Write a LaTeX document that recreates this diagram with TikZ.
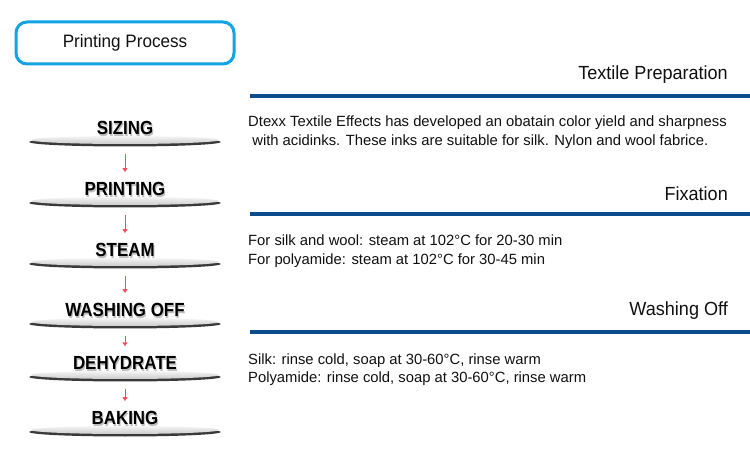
\documentclass[tikz,border=0pt]{standalone}
\usepackage{fontspec}
\setmainfont{Liberation Sans}
\usepackage{xcolor}
\usepackage{graphicx}
\usetikzlibrary{arrows.meta,positioning,shapes.geometric}
\definecolor{cyanframe}{HTML}{12A3E3}
\definecolor{rule}{HTML}{0B4C8C}
\definecolor{ink}{HTML}{111111}
\definecolor{flowred}{HTML}{F4505E}
\definecolor{rim}{HTML}{3A3A3A}
\newcommand{\condensed}[2][0.89]{\scalebox{#1}[1]{#2}}
\tikzset{
  titlebox/.style={draw=cyanframe,line width=3pt,rounded corners=11pt,fill=white,minimum width=218pt,minimum height=42pt,font=\fontsize{18}{20}\selectfont,text=ink},
  disc/.style={ellipse,fill=rim,minimum width=192pt,minimum height=9pt,inner sep=0pt},
  disctop/.style={ellipse,top color=black!4,bottom color=black!20,minimum width=188pt,minimum height=8pt,inner sep=0pt},
  steplbl/.style={font=\fontsize{19}{20}\selectfont\bfseries,text=black,inner sep=2pt},
  stepshadow/.style={steplbl,text=black!25},
  head/.style={font=\fontsize{19}{20}\selectfont,text=ink,anchor=east,inner sep=0pt},
  body/.style={font=\fontsize{14.8}{18.5}\selectfont,text=ink,anchor=base west,align=left,inner sep=0pt},
  hrule/.style={draw=rule,line width=4pt},
  flow/.style={-{Triangle[length=4pt,width=5pt]},draw=flowred,line width=1pt,shorten <=7pt,shorten >=8pt},
}
\begin{document}
\begin{tikzpicture}[x=1pt,y=-1pt]
  \useasboundingbox[fill=white] (0,0) rectangle (750,454);
  % title
  \node[titlebox] (title) at (125,43) {\condensed[0.95]{Printing Process}};
  % process stack
  \foreach \n/\y/\t in {1/128/SIZING,2/189/PRINTING,3/250/STEAM,4/310/WASHING OFF,5/363/DEHYDRATE,6/418/BAKING} {
    \node[disc] (d\n) at (125,\y+14) {};
    \node[disctop] (t\n) at (125,\y+12) {};
    \node[stepshadow] at (126,\y+1.5) {\condensed{\t}};
    \node[steplbl] (s\n) at (125,\y) {\condensed{\t}};
  }
  \foreach \a/\b in {1/2,2/3,3/4,4/5,5/6}
    \draw[flow] (d\a) -- (s\b);
  % right column (base anchor sits on the last line)
  \node[head] (h1) at (728,75) {\condensed[0.95]{Textile Preparation}};
  \coordinate (r1a) at (250,96.5);
  \coordinate (r1b) at (750,96.5);
  \draw[hrule] (r1a) -- (r1b);
  \node[body] (b1) at (248,145.5) {Dtexx Textile Effects has developed an obatain color yield and sharpness\\
    \ with acidinks. These inks are suitable for silk. Nylon and wool fabrice.};
  \node[head] (h2) at (728,194) {\condensed[0.95]{Fixation}};
  \coordinate (r2a) at (250,214.5);
  \coordinate (r2b) at (750,214.5);
  \draw[hrule] (r2a) -- (r2b);
  \node[body] (b2) at (248,264.5) {For silk and wool: steam at 102°C for 20-30 min\\
    For polyamide: steam at 102°C for 30-45 min};
  \node[head] (h3) at (728,311) {\condensed[0.95]{Washing Off}};
  \coordinate (r3a) at (250,332);
  \coordinate (r3b) at (750,332);
  \draw[hrule] (r3a) -- (r3b);
  \node[body] (b3) at (248,383) {Silk: rinse cold, soap at 30-60°C, rinse warm\\
    Polyamide: rinse cold, soap at 30-60°C, rinse warm};
\end{tikzpicture}
\end{document}
